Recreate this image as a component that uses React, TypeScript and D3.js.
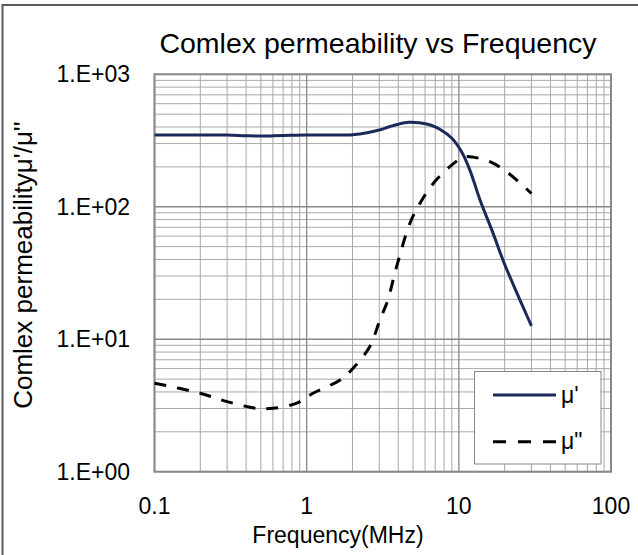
import React from "react";
import * as d3 from "d3";

// μ' (real part) vs frequency in MHz
const muRealFreq = [0.1, 0.2, 0.3, 0.4, 0.5, 0.6, 0.8, 1, 1.5, 2, 2.5, 3, 3.5, 4, 4.7, 5.5, 6.5, 7.5, 9, 10.4, 11.8, 13.8, 16.8, 19.6, 23, 26.5, 30];
const muRealValues = [348, 348, 348, 344, 342, 343, 346, 348, 348, 350, 362, 380, 402, 420, 434, 430, 414, 385, 329, 261, 190, 112, 63, 39, 25.2, 17.4, 12.6];

// μ'' (imaginary part) vs frequency in MHz
const muImagFreq = [0.1, 0.2, 0.3, 0.47, 0.6, 0.86, 1.1, 1.66, 2.02, 2.6, 3.03, 3.4, 3.9, 4.77, 5.55, 6.79, 8.97, 10.7, 12.4, 16, 20.6, 30];
const muImagValues = [4.66, 3.91, 3.38, 3.01, 3.01, 3.29, 3.91, 4.93, 6.04, 8.8, 14, 19.5, 35.3, 75, 106, 150, 206, 237, 237, 219, 184, 126];

const xTickValues = [0.1, 1, 10, 100];
const xTickLabels = ["0.1", "1", "10", "100"];
const yTickValues = [1, 10, 100, 1000];
const yTickLabels = ["1.E+00", "1.E+01", "1.E+02", "1.E+03"];

const W = 638;
const H = 555;
const plot = { left: 154.5, right: 611, top: 74.3, bottom: 471.7 };
const FONT = "'Liberation Sans', Arial, sans-serif";

export default function App() {
  const x = d3.scaleLog().domain([0.1, 100]).range([plot.left, plot.right]);
  const y = d3.scaleLog().domain([1, 1000]).range([plot.bottom, plot.top]);

  const minorX: number[] = [];
  const minorY: number[] = [];
  for (const dec of [0.1, 1, 10]) for (let k = 2; k <= 9; k++) minorX.push(dec * k);
  for (const dec of [1, 10, 100]) for (let k = 2; k <= 9; k++) minorY.push(dec * k);

  const line = d3
    .line<[number, number]>()
    .x((d) => x(d[0]))
    .y((d) => y(d[1]))
    .curve(d3.curveCatmullRom.alpha(0.5));

  const realPath = line(muRealFreq.map((f, i) => [f, muRealValues[i]]) as [number, number][]) || "";
  const imagPath = line(muImagFreq.map((f, i) => [f, muImagValues[i]]) as [number, number][]) || "";

  const navy = "#1c2a5a";

  return (
    <svg width={W} height={H} style={{ position: "absolute", left: 0, top: 0, background: "#fff" }} fontFamily={FONT}>
      <rect x={0} y={0} width={W} height={H} fill="#fff" />
      {/* chart-area frame */}
      <rect x={2.5} y={5} width={W + 20} height={H + 20} fill="none" stroke="#5a5a5a" strokeWidth={2} />

      {/* title */}
      <text x={378} y={53} textAnchor="middle" fontSize={28.5} fill="#000">
        Comlex permeability vs Frequency
      </text>

      {/* minor gridlines */}
      {minorX.map((v) => (
        <line key={"mx" + v} x1={x(v)} x2={x(v)} y1={plot.top} y2={plot.bottom} stroke="#a8a8a8" strokeWidth={1} />
      ))}
      {minorY.map((v) => (
        <line key={"my" + v} x1={plot.left} x2={plot.right} y1={y(v)} y2={y(v)} stroke="#a8a8a8" strokeWidth={1} />
      ))}
      {/* major gridlines */}
      {xTickValues.map((v) => (
        <line key={"Mx" + v} x1={x(v)} x2={x(v)} y1={plot.top} y2={plot.bottom} stroke="#8a8a8a" strokeWidth={1.3} />
      ))}
      {yTickValues.map((v) => (
        <line key={"My" + v} x1={plot.left} x2={plot.right} y1={y(v)} y2={y(v)} stroke="#8a8a8a" strokeWidth={1.3} />
      ))}
      {/* plot frame */}
      <rect
        x={plot.left}
        y={plot.top}
        width={plot.right - plot.left}
        height={plot.bottom - plot.top}
        fill="none"
        stroke="#888"
        strokeWidth={2}
      />

      {/* series */}
      <path d={realPath} fill="none" stroke={navy} strokeWidth={3} strokeLinejoin="round" />
      <path d={imagPath} fill="none" stroke="#000" strokeWidth={3} strokeDasharray="12 11" />

      {/* y tick labels */}
      {yTickValues.map((v, i) => (
        <text key={"yl" + v} x={130} y={y(v)} dy="0.35em" textAnchor="end" fontSize={23} fill="#000">
          {yTickLabels[i]}
        </text>
      ))}
      {/* x tick labels */}
      {xTickValues.map((v, i) => (
        <text key={"xl" + v} x={x(v)} y={514} textAnchor="middle" fontSize={23} fill="#000">
          {xTickLabels[i]}
        </text>
      ))}

      {/* axis titles */}
      <text x={338} y={543} textAnchor="middle" fontSize={23} fill="#000">
        Frequency(MHz)
      </text>
      <text transform="translate(32,265) rotate(-90)" textAnchor="middle" fontSize={26} fill="#000">
        Comlex permeabilityμ'/μ''
      </text>

      {/* legend */}
      <rect x={474.5} y={371.5} width={126.5} height={92.5} fill="#fff" stroke="#888" strokeWidth={1} />
      <line x1={493} x2={556} y1={395} y2={395} stroke={navy} strokeWidth={3} />
      <text x={561} y={403} fontSize={23} fill="#000">
        μ'
      </text>
      <line x1={493} x2={556} y1={441.7} y2={441.7} stroke="#000" strokeWidth={3} strokeDasharray="13 12" />
      <text x={561} y={449} fontSize={23} fill="#000">
        μ"
      </text>
    </svg>
  );
}
